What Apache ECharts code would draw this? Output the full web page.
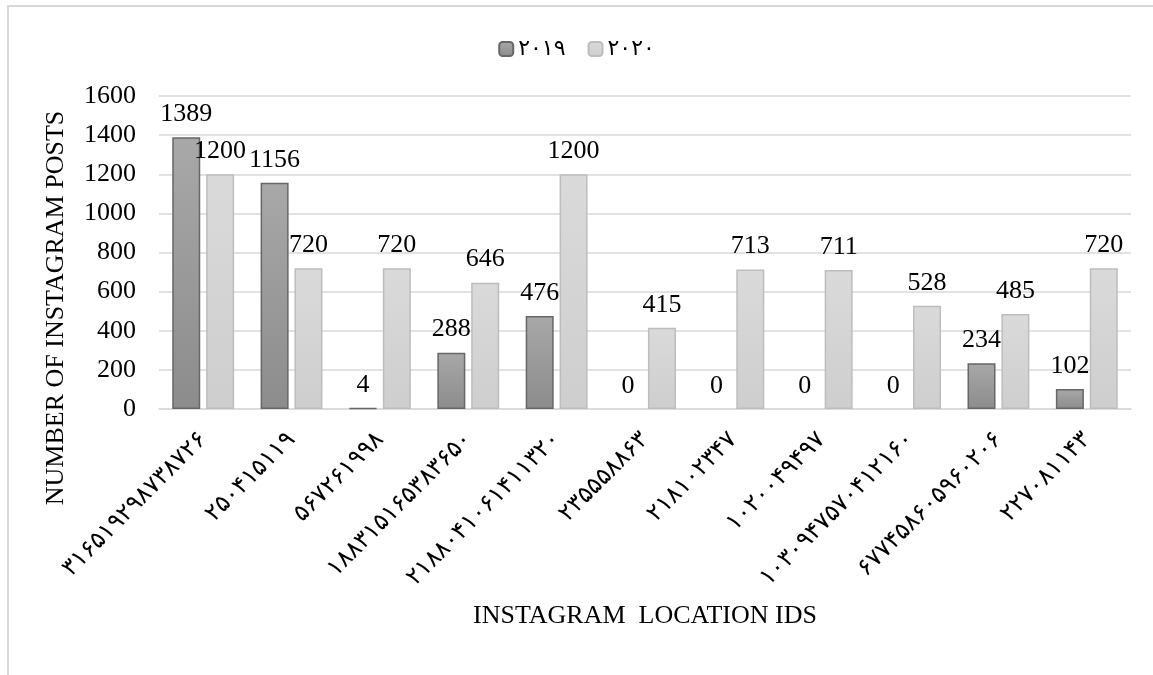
<!DOCTYPE html>
<html>
<head>
<meta charset="utf-8">
<script src="https://cdn.jsdelivr.net/npm/echarts@6/dist/echarts.min.js"></script>
<style>
  html, body { margin: 0; padding: 0; background: #fff; }
  #main { width: 1153px; height: 675px; }
</style>
</head>
<body>
<div id="main"></div>
<script>
  var locationIds = ['۳۱۶۵۱۹۲۹۸۷۳۸۷۲۶', '۲۵۰۴۱۵۱۱۹', '۵۶۷۲۶۱۹۹۸', '۱۸۸۳۱۵۱۶۵۳۸۳۶۵۰', '۲۱۸۸۰۴۱۰۶۱۴۱۱۳۲۰',
    '۲۳۵۵۵۸۸۶۳', '۲۱۸۱۰۲۳۴۷', '۱۰۲۰۰۴۹۴۹۷', '۱۰۳۰۹۴۷۵۷۰۴۱۲۱۶۰', '۶۷۷۴۵۸۶۰۵۹۶۰۲۰۶', '۲۲۷۰۸۱۱۴۳'];
  var posts2019 = [1389, 1156, 4, 288, 476, 0, 0, 0, 0, 234, 102];
  var posts2020 = [1200, 720, 720, 646, 1200, 415, 713, 711, 528, 485, 720];
  var yTicks = [0, 200, 400, 600, 800, 1000, 1200, 1400, 1600];
  var serif = "'Liberation Serif', 'Times New Roman', 'DejaVu Sans', serif";

  // zero bars have no visible outline in the original
  function barData(arr) {
    return arr.map(function (v) {
      return v === 0 ? { value: 0, itemStyle: { borderWidth: 0 } } : v;
    });
  }

  var chart = echarts.init(document.getElementById('main'));
  chart.setOption({
    animation: false,
    textStyle: { fontFamily: serif, color: '#000' },
    legend: {
      top: 33,
      left: 'center',
      itemWidth: 14,
      itemHeight: 14,
      itemGap: 22,
      textStyle: { fontSize: 22, color: '#000', fontFamily: serif },
      data: ['۲۰۱۹', '۲۰۲۰']
    },
    grid: { left: 159, right: 22, top: 96, bottom: 266 },
    graphic: [
      { type: 'line', shape: { x1: 7, y1: 6, x2: 1153, y2: 6 }, style: { stroke: '#d9d9d9', lineWidth: 2 } },
      { type: 'line', shape: { x1: 8, y1: 6, x2: 8, y2: 675 }, style: { stroke: '#d9d9d9', lineWidth: 2 } },
      {
        type: 'text', x: 56, y: 308, rotation: Math.PI / 2,
        style: { text: 'NUMBER OF INSTAGRAM POSTS', fontSize: 26, fontFamily: serif, fill: '#000', align: 'center', verticalAlign: 'middle' }
      }
    ],
    xAxis: {
      type: 'category',
      data: locationIds,
      name: 'INSTAGRAM  LOCATION IDS',
      nameLocation: 'middle',
      nameGap: 194,
      nameTextStyle: { fontSize: 26, fontFamily: serif, color: '#000' },
      axisLine: { lineStyle: { color: '#d9d9d9', width: 1.5 } },
      axisTick: { show: false },
      axisLabel: { rotate: 45, fontSize: 24, color: '#000', margin: 27, fontFamily: serif }
    },
    yAxis: {
      type: 'value',
      min: yTicks[0],
      max: yTicks[yTicks.length - 1],
      interval: 200,
      axisLine: { show: false },
      axisTick: { show: false },
      splitLine: { lineStyle: { color: '#d9d9d9', width: 1.5 } },
      axisLabel: {
        fontSize: 26, color: '#000', margin: 23, fontFamily: serif,
        formatter: function (v) { return String(v); }
      }
    },
    series: [
      {
        name: '۲۰۱۹',
        type: 'bar',
        data: barData(posts2019),
        barWidth: 28,
        barGap: '21%',
        itemStyle: {
          color: new echarts.graphic.LinearGradient(0, 0, 0, 1, [
            { offset: 0, color: '#a8a8a8' },
            { offset: 1, color: '#8c8c8c' }
          ]),
          borderColor: '#676767',
          borderWidth: 1.5
        },
        label: { show: true, position: 'top', distance: 10, fontSize: 26, color: '#000', fontFamily: serif }
      },
      {
        name: '۲۰۲۰',
        type: 'bar',
        data: barData(posts2020),
        barWidth: 28,
        itemStyle: {
          color: new echarts.graphic.LinearGradient(0, 0, 0, 1, [
            { offset: 0, color: '#dadada' },
            { offset: 1, color: '#cecece' }
          ]),
          borderColor: '#bdbdbd',
          borderWidth: 1.5
        },
        label: { show: true, position: 'top', distance: 10, fontSize: 26, color: '#000', fontFamily: serif }
      }
    ]
  });
</script>
</body>
</html>
